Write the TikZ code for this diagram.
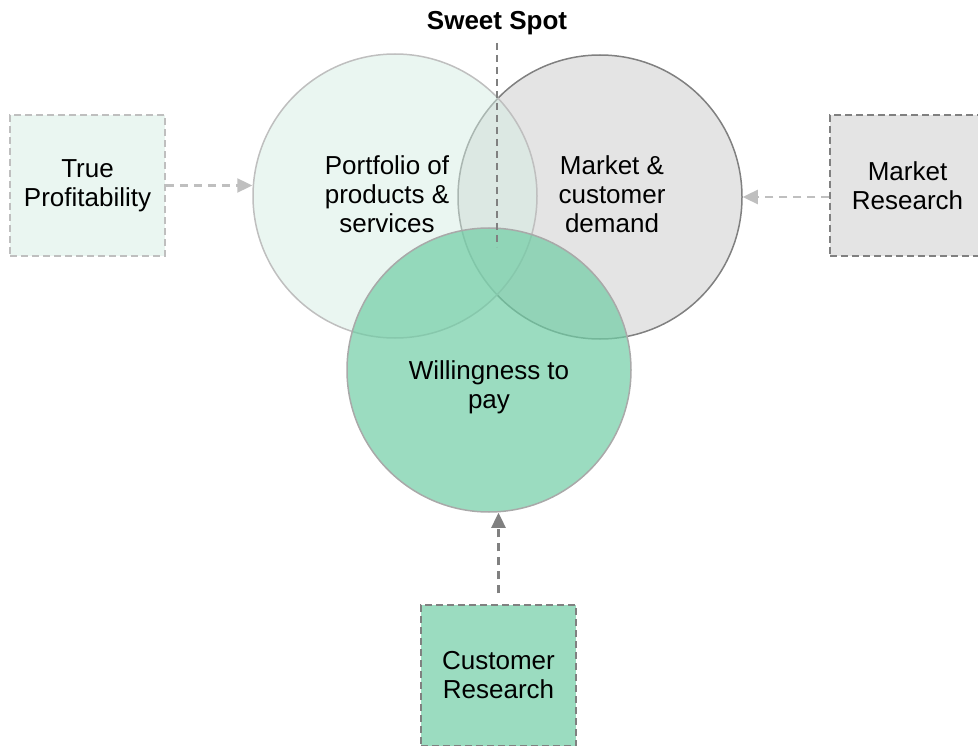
\documentclass[tikz,border=0pt]{standalone}
\usepackage{fontspec}
\setmainfont{Liberation Sans}
\usetikzlibrary{arrows.meta}

% fills and strokes
\definecolor{mintfill}{HTML}{D5EDE3}
\definecolor{mintbox}{HTML}{EAF6F1}
\definecolor{greyfill}{HTML}{E4E4E4}
\definecolor{greenfill}{HTML}{70CDA5}
\definecolor{greenbox}{HTML}{9BDCC0}
\definecolor{lightline}{HTML}{BFBFBF}
\definecolor{darkline}{HTML}{808080}
\definecolor{greenline}{HTML}{A9A9A9}

\tikzset{
  labeltext/.style={font=\fontsize{26}{29}\selectfont, align=center, text=black},
  setcircle/.style={circle, minimum size=284pt, inner sep=0pt, line width=1.5pt},
  sourcebox/.style={rectangle, minimum width=155pt, minimum height=141pt, inner sep=0pt,
    line width=1.5pt, dash pattern=on 7pt off 4pt, labeltext},
  feedarrow/.style={line width=2.4pt, dash pattern=on 8pt off 6pt,
    -{Triangle[length=15pt,width=14pt]}},
  spotline/.style={darkline, line width=2pt, dash pattern=on 7pt off 5pt},
}

\begin{document}
\begin{tikzpicture}[x=1pt, y=-1pt]
  \useasboundingbox (0,0) rectangle (978,746);
  \clip (0,0) rectangle (978,746);

  % the three overlapping sets
  \node[setcircle, draw=darkline, fill=greyfill] (market) at (600,197) {};
  \node[setcircle, draw=lightline, fill=mintfill, fill opacity=0.5] (portfolio) at (395,196) {};
  \node[setcircle, draw=greenline, fill=greenfill, fill opacity=0.7] (wtp) at (489,370) {};

  % their labels
  \node[labeltext] (portfoliotext) at (387,194.5) {Portfolio of\\products \&\\services};
  \node[labeltext] (markettext) at (612,194.5) {Market \&\\customer\\demand};
  \node[labeltext] (wtptext) at (489,387) {Willingness to\\pay};

  % the common centre
  \node[font=\fontsize{26}{29}\selectfont\bfseries, anchor=base] (sweet) at (497,29.3) {Sweet Spot};
  \coordinate (spottop) at (497,43);
  \coordinate (spotend) at (497,247);
  \draw[spotline] (spottop) -- (spotend);

  % inputs feeding each set
  \node[sourcebox, draw=lightline, fill=mintbox] (tp) at (87.5,185.5) {True\\Profitability};
  \node[sourcebox, draw=darkline, fill=greyfill] (mr) at (907.5,185.5) {Market\\Research};
  \node[sourcebox, draw=darkline, fill=greenbox] (cr) at (498.5,675.5) {Customer\\Research};

  \draw[feedarrow, lightline] (tp.east) -- (tp.east -| portfolio.west);
  \draw[feedarrow, lightline] (mr.west |- market.east) -- (market.east);
  \draw[feedarrow, darkline, shorten <=11pt] (cr.north) -- (cr.north |- wtp.south);
\end{tikzpicture}
\end{document}
